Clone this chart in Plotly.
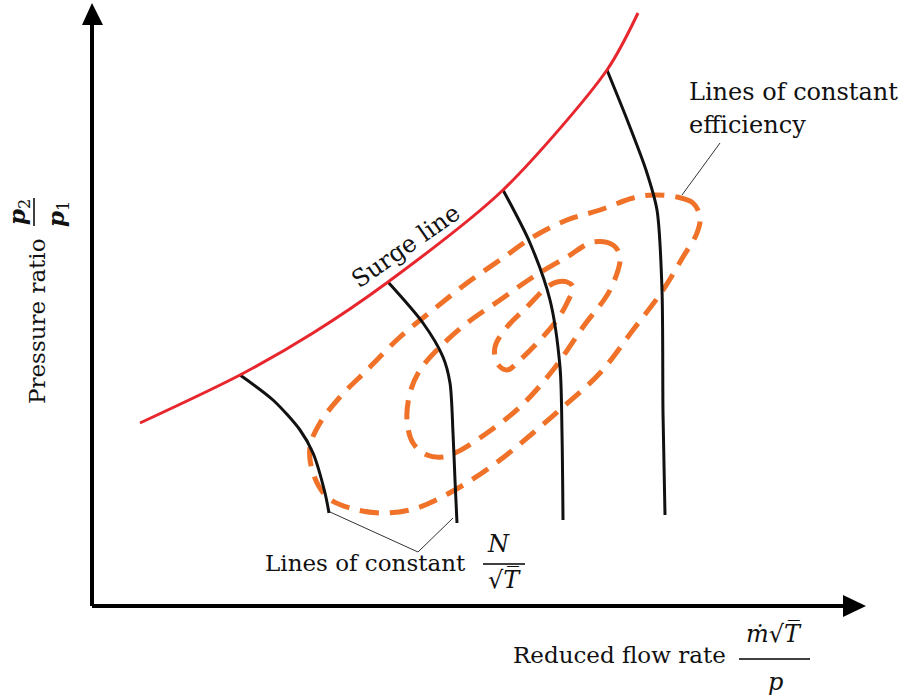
import plotly.graph_objects as go

# Schematic compressor map, coordinates in arbitrary units with the axis corner at (0, 0)

# Surge line
surge_x = [48, 148, 221, 296, 411, 515, 546]
surge_y = [183, 231, 273, 324, 416, 536, 593]

# Lines of constant N/sqrt(T)
speed_lines = {
    "N1": ([148, 181, 208, 221, 233, 237], [231, 206, 176, 153, 113, 93]),
    "N2": ([296, 331, 351, 358, 361, 363, 365], [324, 283, 249, 223, 173, 126, 83]),
    "N3": ([411, 438, 458, 468, 470, 471], [416, 363, 306, 239, 173, 86]),
    "N4": ([515, 536, 554, 565, 570, 571, 573], [536, 484, 436, 396, 316, 193, 91]),
}

# Lines of constant efficiency (closed loops)
eff_outer_x = [608, 601, 585, 561, 541, 508, 475, 441, 408, 375, 341, 308, 275, 248, 228, 218,
               221, 235, 258, 291, 325, 368, 408, 441, 471, 508, 541, 571, 591, 605, 608]
eff_outer_y = [389, 403, 409, 411, 408, 396, 386, 369, 346, 323, 296, 269, 236, 209, 183, 159,
               133, 109, 98, 93, 98, 119, 146, 173, 199, 233, 276, 316, 349, 373, 389]

eff_mid_x = [528, 521, 501, 475, 441, 408, 375, 348, 328, 318, 315, 321, 335, 351, 365, 395,
             428, 461, 491, 518, 528]
eff_mid_y = [349, 361, 364, 349, 329, 306, 283, 259, 236, 213, 186, 163, 151, 149, 154, 173,
             199, 236, 279, 316, 349]

eff_inner_x = [481, 475, 465, 455, 435, 415, 403, 405, 415, 428, 448, 465, 475, 481]
eff_inner_y = [319, 324, 324, 319, 299, 279, 259, 243, 236, 246, 266, 286, 303, 319]

SERIF = "DejaVu Serif"
RED = "#E8262D"
ORANGE = "#F07128"
INK = "#111111"

fig = go.Figure()

for ex, ey in [(eff_outer_x, eff_outer_y), (eff_mid_x, eff_mid_y), (eff_inner_x, eff_inner_y)]:
    fig.add_trace(go.Scatter(
        x=ex, y=ey, mode="lines",
        line=dict(color=ORANGE, width=5, dash="19px,11px", shape="spline", smoothing=1.0),
        hoverinfo="skip", showlegend=False))

for name, (sx, sy) in speed_lines.items():
    fig.add_trace(go.Scatter(
        x=sx, y=sy, mode="lines", name=name,
        line=dict(color=INK, width=3, shape="spline", smoothing=0.8),
        hoverinfo="skip", showlegend=False))

fig.add_trace(go.Scatter(
    x=surge_x, y=surge_y, mode="lines", name="Surge line",
    line=dict(color=RED, width=3, shape="spline", smoothing=0.8),
    hoverinfo="skip", showlegend=False))

# Leader lines for the labels
fig.add_trace(go.Scatter(x=[628, 590], y=[463, 411], mode="lines",
                         line=dict(color="#333333", width=1), hoverinfo="skip", showlegend=False))
fig.add_trace(go.Scatter(x=[238, 326, 361], y=[94, 54, 88], mode="lines",
                         line=dict(color="#333333", width=1), hoverinfo="skip", showlegend=False))

shapes = [
    # axes with arrow heads
    dict(type="line", x0=0, y0=0, x1=0, y1=582, line=dict(color="black", width=4)),
    dict(type="path", path="M -10 581 L 11 581 L 0 603 Z", fillcolor="black", line=dict(width=0)),
    dict(type="line", x0=0, y0=0, x1=752, y1=0, line=dict(color="black", width=4)),
    dict(type="path", path="M 751 11 L 751 -11 L 774 0 Z", fillcolor="black", line=dict(width=0)),
    # fraction bars
    dict(type="line", x0=-58, y0=380, x1=-58, y1=408, line=dict(color="black", width=1.5)),
    dict(type="line", x0=391, y0=42, x1=433, y1=42, line=dict(color="black", width=1.5)),
    dict(type="line", x0=647, y0=-53, x1=718, y1=-53, line=dict(color="black", width=1.5)),
]

def txt(x, y, text, size=24, xanchor="center", angle=0, color=INK):
    return dict(x=x, y=y, text=text, showarrow=False, xanchor=xanchor, yanchor="middle",
                textangle=angle, font=dict(family=SERIF, size=size, color=color))

annotations = [
    txt(595, 514, "Lines of constant", xanchor="left"),
    txt(595, 481, "efficiency", xanchor="left"),
    txt(314, 360, "Surge line", angle=-35),
    txt(171, 43, "Lines of constant", size=23, xanchor="left"),
    txt(406, 62, "<i>N</i>"),
    txt(412, 26, "√<i>T̅</i>"),
    txt(419, -49, "Reduced flow rate", size=23, xanchor="left"),
    txt(682, -28, "<i>ṁ</i>√<i>T̅</i>"),
    txt(683, -76, "<i>p</i>"),
    txt(-55, 285, "Pressure ratio", size=23, angle=-90),
    txt(-74, 394, "<b><i>p</i></b><sub>2</sub>", size=23, angle=-90),
    txt(-35, 392, "<b><i>p</i></b><sub>1</sub>", size=23, angle=-90),
]

fig.update_layout(
    width=910, height=696,
    margin=dict(l=0, r=0, t=0, b=0),
    paper_bgcolor="white", plot_bgcolor="white",
    xaxis=dict(range=[-92, 818], visible=False, fixedrange=True),
    yaxis=dict(range=[-90, 606], visible=False, fixedrange=True),
    shapes=shapes, annotations=annotations, showlegend=False,
)

fig.write_html("out.html")
